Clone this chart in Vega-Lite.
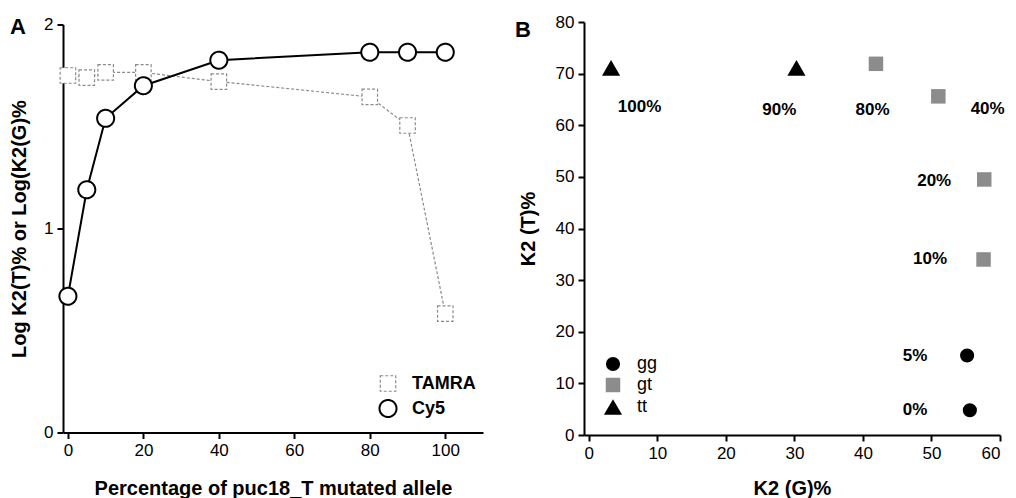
{
  "$schema": "https://vega.github.io/schema/vega-lite/v6.json",
  "background": "white",
  "padding": {"left": 9, "top": 13, "right": 5, "bottom": 0},
  "spacing": 101,
  "bounds": "flush",
  "center": true,
  "resolve": {
    "scale": {"shape": "independent", "color": "independent", "size": "independent", "stroke": "independent", "strokeDash": "independent", "strokeWidth": "independent"},
    "legend": {"shape": "independent", "color": "independent", "size": "independent", "stroke": "independent", "strokeDash": "independent", "strokeWidth": "independent"}
  },
  "config": {
    "view": {"stroke": null},
    "font": "Liberation Sans",
    "axis": {
      "domainColor": "black", "domainWidth": 2, "tickColor": "black", "tickWidth": 2, "tickSize": 6,
      "grid": false, "labelFontSize": 17, "labelColor": "black", "labelFont": "Liberation Sans",
      "titleFontSize": 20, "titleFontWeight": "bold", "titleColor": "black", "titleFont": "Liberation Sans",
      "labelPadding": 4, "labelOverlap": false
    },
    "legend": {"labelLimit": 300},
    "title": {"fontSize": 22, "fontWeight": "bold", "color": "black", "font": "Liberation Sans", "anchor": "start", "frame": "group"}
  },
  "datasets": {
    "kinetics": [
      {"pct": 0, "series": "TAMRA", "logk": 1.75},
      {"pct": 5, "series": "TAMRA", "logk": 1.74},
      {"pct": 10, "series": "TAMRA", "logk": 1.765},
      {"pct": 20, "series": "TAMRA", "logk": 1.765},
      {"pct": 40, "series": "TAMRA", "logk": 1.72},
      {"pct": 80, "series": "TAMRA", "logk": 1.645},
      {"pct": 90, "series": "TAMRA", "logk": 1.505},
      {"pct": 100, "series": "TAMRA", "logk": 0.583},
      {"pct": 0, "series": "Cy5", "logk": 0.668},
      {"pct": 5, "series": "Cy5", "logk": 1.19},
      {"pct": 10, "series": "Cy5", "logk": 1.54},
      {"pct": 20, "series": "Cy5", "logk": 1.70},
      {"pct": 40, "series": "Cy5", "logk": 1.825},
      {"pct": 80, "series": "Cy5", "logk": 1.864},
      {"pct": 90, "series": "Cy5", "logk": 1.864},
      {"pct": 100, "series": "Cy5", "logk": 1.864}
    ],
    "genotypes": [
      {"g": 3.25, "t": 71.1, "type": "tt", "pct": "100%"},
      {"g": 30.3, "t": 71.1, "type": "tt", "pct": "90%"},
      {"g": 41.9, "t": 71.9, "type": "gt", "pct": "80%"},
      {"g": 51.0, "t": 65.6, "type": "gt", "pct": "40%"},
      {"g": 57.7, "t": 49.5, "type": "gt", "pct": "20%"},
      {"g": 57.6, "t": 34.0, "type": "gt", "pct": "10%"},
      {"g": 55.2, "t": 15.4, "type": "gg", "pct": "5%"},
      {"g": 55.6, "t": 4.8, "type": "gg", "pct": "0%"}
    ],
    "labels": [
      {"lg": 7.4, "lt": 63.5, "text": "100%"},
      {"lg": 27.8, "lt": 63.05, "text": "90%"},
      {"lg": 41.4, "lt": 63.05, "text": "80%"},
      {"lg": 58.2, "lt": 63.1, "text": "40%"},
      {"lg": 50.4, "lt": 49.2, "text": "20%"},
      {"lg": 49.8, "lt": 34.1, "text": "10%"},
      {"lg": 47.6, "lt": 15.3, "text": "5%"},
      {"lg": 47.6, "lt": 4.8, "text": "0%"}
    ]
  },
  "hconcat": [
    {
      "width": 420,
      "height": 408,
      "title": {"text": "A", "offset": -28, "dx": -53, "dy": 12, "baseline": "alphabetic"},
      "data": {"name": "kinetics"},
      "encoding": {
        "x": {"field": "pct", "type": "quantitative",
              "scale": {"domain": [-1.3, 110], "nice": false, "zero": false},
              "axis": {"values": [0, 20, 40, 60, 80, 100], "title": "Percentage of puc18_T mutated allele", "titlePadding": 20}},
        "y": {"field": "logk", "type": "quantitative",
              "scale": {"domain": [0, 2], "nice": false},
              "axis": {"values": [0, 1, 2], "labelExpr": "datum.value === 0 ? '0' : datum.value === 1 ? '1' : '2'", "title": "Log K2(T)% or Log(K2(G)%", "titlePadding": 14}}
      },
      "layer": [
        {
          "transform": [{"filter": "datum.series === 'TAMRA'"}],
          "mark": {"type": "line", "color": "#8a8a8a", "strokeWidth": 1.2, "strokeDash": [3, 2]}
        },
        {
          "transform": [{"filter": "datum.series === 'Cy5'"}],
          "mark": {"type": "line", "color": "black", "strokeWidth": 2}
        },
        {
          "mark": {"type": "point", "filled": false, "fill": "white", "fillOpacity": 1, "opacity": 1},
          "encoding": {
            "shape": {"field": "series", "type": "nominal",
                      "scale": {"domain": ["TAMRA", "Cy5"], "range": ["square", "circle"]},
                      "legend": {"title": null, "orient": "none", "legendX": 315, "legendY": 350,
                                 "labelFontSize": 18, "labelFontWeight": "bold", "labelColor": "black",
                                 "symbolFillColor": "white", "rowPadding": 1, "labelOffset": 14}},
            "stroke": {"field": "series", "type": "nominal",
                       "scale": {"domain": ["TAMRA", "Cy5"], "range": ["#8a8a8a", "black"]}},
            "strokeDash": {"field": "series", "type": "nominal",
                           "scale": {"domain": ["TAMRA", "Cy5"], "range": [[3, 2], [1, 0]]}},
            "strokeWidth": {"field": "series", "type": "nominal",
                            "scale": {"domain": ["TAMRA", "Cy5"], "range": [1.2, 2]}},
            "size": {"field": "series", "type": "nominal",
                     "scale": {"type": "ordinal", "domain": ["TAMRA", "Cy5"], "range": [240, 290]}}
          }
        }
      ]
    },
    {
      "width": 416,
      "height": 413,
      "title": {"text": "B", "offset": -29, "dx": -69, "dy": 17, "baseline": "alphabetic"},
      "encoding": {
        "x": {"type": "quantitative", "scale": {"domain": [-0.7, 60], "nice": false, "zero": false}},
        "y": {"type": "quantitative", "scale": {"domain": [0, 80], "nice": false}}
      },
      "layer": [
        {
          "data": {"name": "genotypes"},
          "mark": {"type": "point", "filled": true, "opacity": 1, "strokeWidth": 0},
          "encoding": {
            "x": {"field": "g", "type": "quantitative",
                  "axis": {"values": [0, 5, 10, 15, 20, 25, 30, 35, 40, 45, 50, 55, 60],
                           "labelExpr": "datum.value % 10 === 0 ? datum.label : ''",
                           "title": "K2 (G)%", "titlePadding": 17}},
            "y": {"field": "t", "type": "quantitative",
                  "axis": {"values": [0, 5, 10, 15, 20, 25, 30, 35, 40, 45, 50, 55, 60, 65, 70, 75, 80],
                           "labelExpr": "datum.value % 10 === 0 ? datum.label : ''",
                           "title": "K2 (T)%", "titlePadding": 17}},
            "shape": {"field": "type", "type": "nominal",
                      "scale": {"domain": ["gg", "gt", "tt"], "range": ["circle", "square", "triangle-up"]},
                      "legend": {"title": null, "orient": "none", "legendX": 19, "legendY": 333,
                                 "labelFontSize": 18, "labelColor": "black", "rowPadding": 3, "labelOffset": 14}},
            "color": {"field": "type", "type": "nominal",
                      "scale": {"domain": ["gg", "gt", "tt"], "range": ["black", "#8c8c8c", "black"]}},
            "size": {"field": "type", "type": "nominal",
                     "scale": {"type": "ordinal", "domain": ["gg", "gt", "tt"], "range": [200, 210, 330]}}
          }
        },
        {
          "data": {"name": "labels"},
          "mark": {"type": "text", "fontSize": 17, "fontWeight": "bold", "color": "black"},
          "encoding": {
            "x": {"field": "lg", "type": "quantitative"},
            "y": {"field": "lt", "type": "quantitative"},
            "text": {"field": "text"}
          }
        }
      ]
    }
  ]
}
